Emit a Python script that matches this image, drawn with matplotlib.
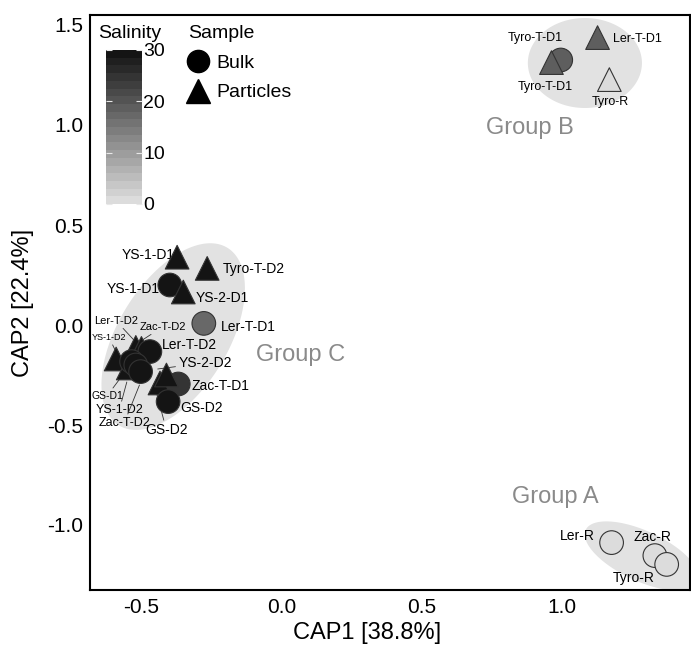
import numpy as np
import matplotlib
matplotlib.use("Agg")
import matplotlib.pyplot as plt
from matplotlib.colors import LinearSegmentedColormap, Normalize
from matplotlib.cm import ScalarMappable
from matplotlib.lines import Line2D
from matplotlib.ticker import FormatStrFormatter

plt.rcParams["font.family"] = ["Liberation Sans", "DejaVu Sans"]
plt.rcParams["axes.unicode_minus"] = False

# bulk samples (circles)
bulk_names = ["YS-1-D1", "Ler-T-D1", "Ler-T-D2", "GS-D1", "YS-1-D2", "Zac-T-D2",
              "Zac-T-D1", "GS-D2", "Tyro-T-D1", "Ler-R", "Zac-R", "Tyro-R"]
bulk_cap1 = [-0.397, -0.276, -0.468, -0.533, -0.518, -0.501,
             -0.367, -0.403, 0.994, 1.175, 1.329, 1.371]
bulk_cap2 = [0.200, 0.008, -0.133, -0.183, -0.200, -0.233,
             -0.295, -0.383, 1.325, -1.088, -1.153, -1.197]
bulk_sal = [29, 17, 29, 29, 29, 29, 25, 29, 19, 0, 0, 0]

# particle samples (triangles)
part_names = ["YS-1-D1", "Tyro-T-D2", "YS-2-D1", "YS-1-D2", "Ler-T-D2", "Zac-T-D2",
              "GS-D1", "GS-D2", "YS-2-D2", "Tyro-T-D1", "Ler-T-D1", "Tyro-R"]
part_cap1 = [-0.371, -0.264, -0.349, -0.588, -0.518, -0.498,
             -0.545, -0.432, -0.409, 0.961, 1.125, 1.167]
part_cap2 = [0.339, 0.283, 0.165, -0.170, -0.112, -0.117,
             -0.215, -0.290, -0.250, 1.312, 1.437, 1.227]
part_sal = [30, 30, 30, 30, 30, 30, 30, 30, 30, 19, 19, 0]

# triangles that sit on top of the circles
on_top = {"YS-2-D1", "YS-2-D2", "Tyro-T-D1"}

# group hulls: centre, half-axis vectors (data units)
groups = ["Group A", "Group B", "Group C"]
hull_centre = [(1.283, -1.155), (1.080, 1.310), (-0.385, -0.058)]
hull_u = [(0.200, -0.131), (0.203, 0.0), (0.193, 0.444)]
hull_v = [(0.038, 0.113), (0.0, 0.225), (-0.167, 0.144)]
group_label_xy = [(0.973, -0.858), (0.885, 0.985), (0.069, -0.150)]

# point labels: text, x, y, ha, size, leader target
point_labels = [
    ("YS-1-D1", -0.379, 0.350, "right", 10, None),
    ("Tyro-T-D2", -0.207, 0.279, "left", 10, None),
    ("YS-1-D1", -0.432, 0.179, "right", 10, None),
    ("YS-2-D1", -0.304, 0.134, "left", 10, None),
    ("Ler-T-D1", -0.216, -0.008, "left", 10, None),
    ("Ler-T-D2", -0.589, 0.022, "center", 8, (-0.525, -0.075)),
    ("Zac-T-D2", -0.421, -0.008, "center", 8, (-0.500, -0.080)),
    ("YS-1-D2", -0.613, -0.063, "center", 6.5, (-0.590, -0.130)),
    ("Ler-T-D2", -0.426, -0.100, "left", 10, None),
    ("YS-2-D2", -0.367, -0.189, "left", 10, (-0.440, -0.220)),
    ("Zac-T-D1", -0.320, -0.305, "left", 10, None),
    ("GS-D2", -0.359, -0.417, "left", 10, None),
    ("GS-D1", -0.620, -0.354, "center", 7.5, (-0.570, -0.260)),
    ("YS-1-D2", -0.577, -0.425, "center", 9, (-0.550, -0.285)),
    ("Zac-T-D2", -0.559, -0.489, "center", 9, (-0.505, -0.300)),
    ("GS-D2", -0.409, -0.525, "center", 10, (-0.450, -0.310)),
    ("Tyro-T-D1", 0.902, 1.434, "center", 9, None),
    ("Tyro-T-D1", 0.938, 1.189, "center", 9, None),
    ("Ler-T-D1", 1.181, 1.429, "left", 9, None),
    ("Tyro-R", 1.169, 1.117, "center", 9, None),
    ("Ler-R", 1.116, -1.055, "right", 10, None),
    ("Zac-R", 1.321, -1.058, "center", 10, None),
    ("Tyro-R", 1.252, -1.267, "center", 10, None),
]

cmap = LinearSegmentedColormap.from_list("salinity", ["#dcdcdc", "#141414"], N=20)
norm = Normalize(0, 30)

W, H = 691, 647
fig = plt.figure(figsize=(W / 100, H / 100), dpi=100)
ax = fig.add_axes([90 / W, 57 / H, 600 / W, 575 / H])

# group ellipses
t = np.linspace(0, 2 * np.pi, 200)
for c, u, v in zip(hull_centre, hull_u, hull_v):
    ex = c[0] + np.cos(t) * u[0] + np.sin(t) * v[0]
    ey = c[1] + np.cos(t) * u[1] + np.sin(t) * v[1]
    ax.fill(ex, ey, color="#e2e2e2", lw=0, zorder=1)

for g, (gx, gy) in zip(groups, group_label_xy):
    ax.text(gx, gy, g, fontsize=17, color="#8a8a8a", ha="center", va="center", zorder=1.5)

for txt, lx, ly, ha, fs, target in point_labels:
    if target is None:
        ax.text(lx, ly, txt, fontsize=fs, ha=ha, va="center", zorder=2)
    else:
        ax.annotate(txt, xy=target, xytext=(lx, ly), fontsize=fs, ha=ha, va="center",
                    arrowprops=dict(arrowstyle="-", color="#333333", lw=0.6,
                                    shrinkA=0, shrinkB=0), zorder=2)

part_cap1 = np.array(part_cap1)
part_cap2 = np.array(part_cap2)
part_sal = np.array(part_sal)
top = np.array([n in on_top for n in part_names])

kw = dict(cmap=cmap, norm=norm, s=290, edgecolors="#333333", linewidths=0.8)
ax.scatter(part_cap1[~top], part_cap2[~top], c=part_sal[~top], marker="^", zorder=3, **kw)
ax.scatter(bulk_cap1, bulk_cap2, c=bulk_sal, marker="o", zorder=4, **kw)
ax.scatter(part_cap1[top], part_cap2[top], c=part_sal[top], marker="^", zorder=5, **kw)

ax.set_xlim(-0.681, 1.454)
ax.set_ylim(-1.325, 1.55)
ax.set_xticks([-0.5, 0.0, 0.5, 1.0])
ax.set_yticks([-1.0, -0.5, 0.0, 0.5, 1.0, 1.5])
ax.xaxis.set_major_formatter(FormatStrFormatter("%.1f"))
ax.yaxis.set_major_formatter(FormatStrFormatter("%.1f"))
ax.tick_params(length=0, labelsize=15)
ax.tick_params(axis="x", pad=6)
ax.tick_params(axis="y", pad=5)
for s in ax.spines.values():
    s.set_linewidth(1.5)
ax.set_xlabel("CAP1 [38.8%]", fontsize=17)
ax.set_ylabel("CAP2 [22.4%]", fontsize=17)
ax.xaxis.set_label_coords(0.462, -0.056)
ax.yaxis.set_label_coords(-0.093, 0.5)

# salinity colour bar
cax = fig.add_axes([106 / W, 1 - 204 / H, 36 / W, 154 / H])
cb = fig.colorbar(ScalarMappable(norm=norm, cmap=cmap), cax=cax, ticks=[0, 10, 20, 30])
cb.outline.set_visible(False)
cax.tick_params(labelsize=14, length=4, width=0.8, color="#e8e8e8", direction="in",
                pad=1, left=True, right=True)
fig.text(98 / W, 1 - 33 / H, "Salinity", fontsize=14, ha="left", va="center")

# sample legend
handles = [Line2D([], [], marker="o", ls="", color="black", markersize=16),
           Line2D([], [], marker="^", ls="", color="black", markersize=17)]
fig.legend(handles, ["Bulk", "Particles"], title="Sample", loc="upper left",
           bbox_to_anchor=(188 / W, 1 - 25 / H), frameon=False, fontsize=14,
           title_fontsize=14, handlelength=1.0, handletextpad=0.45,
           labelspacing=0.62, borderpad=0, borderaxespad=0, alignment="left")

fig.savefig("out.png", dpi=100)
